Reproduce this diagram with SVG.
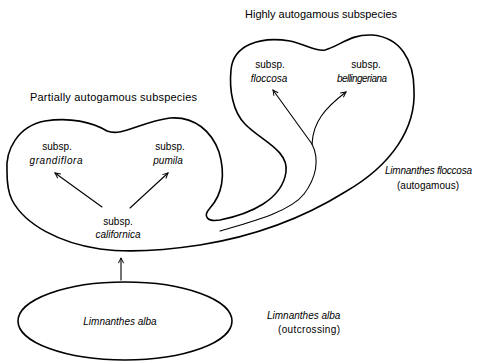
<svg xmlns="http://www.w3.org/2000/svg" width="479" height="362" viewBox="0 0 479 362">
<style>
.outline{fill:none;stroke:#000;stroke-width:1.6;stroke-linejoin:round;stroke-linecap:round}
.conn{fill:none;stroke:#000;stroke-width:1.1;stroke-linecap:round}
text{font-family:"Liberation Sans",Arial,sans-serif;font-size:10px;fill:#000}
.it{font-style:italic}
.mid{text-anchor:middle}
.title{font-size:11px}
</style>
<defs>
<marker id="ah" viewBox="0 0 8 8" refX="7" refY="4" markerWidth="7" markerHeight="7" markerUnits="userSpaceOnUse" orient="auto">
<path d="M1,1 L7,4 L1,7" fill="none" stroke="#000" stroke-width="1.1"/>
</marker>
</defs>
<rect width="479" height="362" fill="#fff"/>

<g id="floccosa-species">
<path class="outline" d="M7,172 C5,150 18,126 45,121 C70,117 92,122 107,131 C122,137 140,122 170,118 C195,116 212,132 219,152 C226,175 222,195 210,208 C202,217 208,222 220,220 C250,214 282,200 286,172 C289,150 260,140 245,124 C233,112 229,90 231,70 C233,45 260,36 290,41 C305,44 316,52 325,50 C340,46 350,34 372,35 C400,37 414,60 414,90 C416,128 392,165 345,192 C300,220 250,237 200,245 C160,251 130,253 100,249 C60,243 25,225 12,200 C8,192 7,182 7,172 Z"/>
<text x="385" y="174" class="it" textLength="87">Limnanthes floccosa</text>
<text x="397" y="189" textLength="62">(autogamous)</text>
</g>

<g id="partially-autogamous">
<text x="113.5" y="101" class="mid title" textLength="167">Partially autogamous subspecies</text>
</g>
<g id="highly-autogamous">
<text x="321" y="18" class="mid title" textLength="152">Highly autogamous subspecies</text>
</g>

<g id="grandiflora">
<text x="57" y="150" class="mid">subsp.</text>
<text x="56" y="164" class="mid it" textLength="53">grandiflora</text>
</g>
<g id="pumila">
<text x="170" y="150" class="mid">subsp.</text>
<text x="168" y="164" class="mid it">pumila</text>
</g>
<g id="californica">
<text x="118" y="225" class="mid">subsp.</text>
<text x="118" y="238" class="mid it">californica</text>
</g>
<g id="floccosa">
<text x="270" y="68" class="mid">subsp.</text>
<text x="269" y="82" class="mid it">floccosa</text>
</g>
<g id="bellingeriana">
<text x="366" y="68" class="mid">subsp.</text>
<text x="362" y="82" class="mid it" textLength="50">bellingeriana</text>
</g>

<g id="alba">
<ellipse class="outline" cx="125" cy="321" rx="107" ry="39"/>
<text x="120" y="325" class="mid it">Limnanthes alba</text>
<text x="267" y="319" class="it">Limnanthes alba</text>
<text x="278" y="333" textLength="62">(outcrossing)</text>
</g>

<g id="connectors">
<path class="conn" d="M121,280 L121,258" marker-end="url(#ah)"/>
<path class="conn" d="M102,207 L55,173" marker-end="url(#ah)"/>
<path class="conn" d="M130,208 L168,173" marker-end="url(#ah)"/>
<path class="conn" d="M220,231 C250,222 290,212 304,194 C316,178 320,160 312,144"/>
<path class="conn" d="M312,144 L273,90" marker-end="url(#ah)"/>
<path class="conn" d="M312,144 C313,122 325,108 346,92" marker-end="url(#ah)"/>
</g>
</svg>
